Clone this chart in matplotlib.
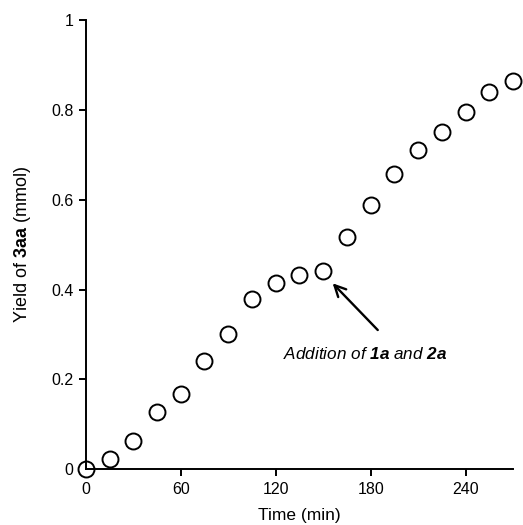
import matplotlib
matplotlib.use("Agg")
import matplotlib.pyplot as plt

plt.rcParams['font.family'] = ['Liberation Sans', 'DejaVu Sans']
plt.rcParams['mathtext.fontset'] = 'custom'
plt.rcParams['mathtext.rm'] = 'Liberation Sans'
plt.rcParams['mathtext.it'] = 'Liberation Sans:italic'
plt.rcParams['mathtext.bf'] = 'Liberation Sans:bold'
plt.rcParams['mathtext.bfit'] = 'Liberation Sans:bold:italic'

# data
time_min = [0, 15, 30, 45, 60, 75, 90, 105, 120, 135, 150,
            165, 180, 195, 210, 225, 240, 255, 270]
yield_mmol = [0.0, 0.024, 0.062, 0.127, 0.167, 0.241, 0.302, 0.380, 0.415, 0.432, 0.441,
              0.518, 0.588, 0.658, 0.710, 0.750, 0.795, 0.839, 0.865]

x_ticks = [0, 60, 120, 180, 240]
y_ticks = [0, 0.2, 0.4, 0.6, 0.8, 1.0]
y_tick_labels = ['0', '0.2', '0.4', '0.6', '0.8', '1']

# arrow pointing at the addition point (time, yield)
arrow_tip = (156, 0.414)
arrow_tail = (184.5, 0.31)
note_pos = (176.5, 0.257)

fig = plt.figure(figsize=(5.23, 5.25), dpi=100)
ax = fig.add_axes([0.164, 0.106, 0.817, 0.856])

ax.plot(time_min, yield_mmol, 'o', markersize=11.5, markerfacecolor='white',
        markeredgecolor='black', markeredgewidth=1.4, clip_on=False, zorder=2)

ax.set_xlim(0, 270)
ax.set_ylim(0, 1)
ax.set_xticks(x_ticks)
ax.set_yticks(y_ticks)
ax.set_yticklabels(y_tick_labels)

for side in ['top', 'right']:
    ax.spines[side].set_visible(False)
for side in ['left', 'bottom']:
    ax.spines[side].set_linewidth(1.4)
    ax.spines[side].set_zorder(3)
ax.tick_params(direction='out', length=5, width=1.4, labelsize=11.5, pad=4)

ax.set_xlabel('Time (min)', fontsize=12.5, labelpad=8)
ax.set_ylabel(r'Yield of $\mathbf{3aa}$ (mmol)', fontsize=13, labelpad=13)

ax.annotate('', xy=arrow_tip, xytext=arrow_tail,
            arrowprops=dict(arrowstyle='->', color='black', lw=1.7,
                            mutation_scale=20, shrinkA=0, shrinkB=0))
ax.text(note_pos[0], note_pos[1], r'Addition of $\mathbfit{1a}$ and $\mathbfit{2a}$',
        fontsize=12.3, fontstyle='italic', ha='center', va='center')

fig.savefig('out.png', dpi=100)
